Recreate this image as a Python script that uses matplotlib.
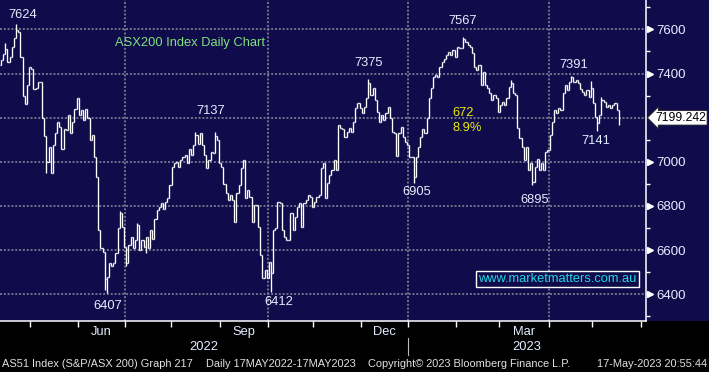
import numpy as np
import pandas as pd
import matplotlib
matplotlib.use("Agg")
import matplotlib.pyplot as plt
from matplotlib.collections import LineCollection
from matplotlib.patches import Rectangle
from matplotlib.ticker import MultipleLocator
from matplotlib.transforms import blended_transform_factory

# Daily closes (AS51, Apr 2022 - 17 May 2023)
close = [
    7460, 7490, 7510, 7450, 7476, 7521, 7560, 7595, 7590, 7473,
    7300, 7262, 7350, 7430, 7420, 7330, 7335, 7363, 7360, 7200,
    7117, 7000, 7068, 6950, 7075, 7130, 7180, 7160, 7060, 7150,
    7145, 7210, 7130, 7180, 7240, 7290, 7210, 7235, 7190, 7240,
    7200, 7100, 7120, 7023, 6933, 6691, 6608, 6590, 6470, 6480,
    6540, 6530, 6540, 6585, 6700, 6767, 6706, 6615, 6540, 6623,
    6658, 6608, 6646, 6713, 6600, 6646, 6615, 6660, 6608, 6690,
    6650, 6740, 6782, 6797, 6815, 6785, 6820, 6835, 6895, 6978,
    6993, 7000, 6978, 7008, 7023, 7030, 6993, 7060, 7030, 7076,
    7121, 7083, 7130, 7076, 7030, 6970, 7008, 7045, 7040, 7115,
    7100, 6993, 6978, 6900, 6857, 6827, 6850, 6827, 6729, 6857,
    6895, 6970, 7008, 6835, 6872, 6842, 6729, 6805, 6805, 6706,
    6578, 6472, 6510, 6472, 6548, 6495, 6691, 6699, 6820, 6812,
    6691, 6660, 6646, 6646, 6767, 6691, 6752, 6797, 6812, 6706,
    6812, 6827, 6850, 6842, 6797, 6820, 6840, 6850, 6970, 6993,
    6835, 6902, 6940, 6963, 7008, 6963, 7167, 7152, 7147, 7114,
    7136, 7152, 7136, 7182, 7242, 7265, 7242, 7219, 7250, 7287,
    7355, 7303, 7333, 7280, 7227, 7182, 7212, 7190, 7219, 7250,
    7200, 7136, 7130, 7026, 7130, 7160, 7114, 7091, 7076, 7023,
    7023, 6930, 7023, 7068, 7114, 7150, 7130, 7197, 7287, 7333,
    7385, 7393, 7385, 7430, 7453, 7468, 7484, 7499, 7484, 7506,
    7476, 7521, 7514, 7514, 7555, 7544, 7529, 7521, 7494, 7430,
    7416, 7438, 7348, 7408, 7348, 7333, 7310, 7280, 7303, 7287,
    7227, 7257, 7272, 7257, 7287, 7340, 7355, 7310, 7303, 7152,
    7106, 7068, 7008, 7068, 6963, 6993, 6910, 6978, 7015, 6963,
    6993, 6963, 7045, 7053, 7121, 7182, 7235, 7219, 7242, 7235,
    7313, 7348, 7325, 7363, 7382, 7363, 7370, 7358, 7328, 7318,
    7303, 7325, 7295, 7333, 7265, 7204, 7174, 7212, 7280, 7272,
    7250, 7257, 7242, 7257, 7265, 7235, 7199.242,
]
first_open = 7440
# intraday extremes that stick out past open/close
high_extra = {2: 7540, 7: 7624, 55: 6775, 63: 6725, 90: 7133, 99: 7137,
              170: 7375, 214: 7567, 236: 7370, 264: 7391, 273: 7367, 278: 7292}
low_extra = {21: 6950, 48: 6420, 49: 6407, 58: 6530, 67: 6585, 125: 6412,
             191: 6905, 246: 6895, 276: 7141, 286: 7165}

# labels Bloomberg put on the chart: text, bar index, price level
peak_labels = [("7624", 10, 7665), ("7137", 97, 7231), ("7375", 170, 7447),
               ("7567", 213.5, 7638), ("7391", 265, 7438),
               ("6407", 49.5, 6348), ("6412", 128.5, 6366), ("6905", 192.5, 6863),
               ("6895", 247, 6827), ("7141", 275.5, 7094)]
move_pts = "672"
move_pct = "8.9%"
last_price = close[-1]
y_major = [6400, 6600, 6800, 7000, 7200, 7400, 7600]
month_names = {6: "Jun", 9: "Sep", 12: "Dec", 3: "Mar"}

dates = pd.bdate_range(end="2023-05-17", periods=len(close))

NAVY = "#100c4b"
W, H = 709, 372
plt.rcParams["font.family"] = ["Liberation Sans", "DejaVu Sans"]

fig = plt.figure(figsize=(W / 100, H / 100), dpi=100)
fig.patch.set_facecolor("black")
fig.add_artist(Rectangle((0, 51 / H), 1, 321 / H, transform=fig.transFigure,
                         facecolor=NAVY, edgecolor="none", zorder=0))
ax = fig.add_axes([0, 51 / H, 646 / W, 321 / H])
ax.set_facecolor(NAVY)

# OHLC bars, open taken as previous close
opens = [first_open] + close[:-1]
segs = []
for i, c in enumerate(close):
    o = opens[i]
    hi = max(o, c, high_extra.get(i, c))
    lo = min(o, c, low_extra.get(i, c))
    segs.append([(i, lo), (i, hi)])
    segs.append([(i - 0.5, o), (i, o)])
    segs.append([(i, c), (i + 0.5, c)])
ax.add_collection(LineCollection(segs, colors="white", linewidths=0.95, zorder=3))

x_left, x_right = -1 / 2.16, 645 / 2.16
ax.set_xlim(x_left, x_right)
ax.set_ylim(6279, 7733)

# month boundaries on a business-day axis
full = pd.bdate_range(dates[0], "2023-07-31")
starts = [k for k in range(1, len(full)) if full[k].month != full[k - 1].month]
bounds = [k - 0.5 for k in starts if x_left < k - 0.5 < x_right]
ax.set_xticks(bounds)
ax.tick_params(axis="x", direction="out", length=4, width=1, color="white",
               labelbottom=False)

grid_kw = dict(color="#8c8c9c", lw=1.1, ls=(0, (1.3, 1.2)), zorder=1)
for v in y_major:
    ax.axhline(v, **grid_kw)
jan_pos = None
for k in starts:
    if full[k].month in (1, 4, 7, 10) and x_left < k - 0.5 < x_right:
        ax.axvline(k - 0.5, **grid_kw)
    if full[k].month == 1:
        jan_pos = k - 0.5

bx = blended_transform_factory(ax.transData, ax.transAxes)
lab_col = "#e4ecff"
for j, k in enumerate(starts[:-1]):
    m = full[k].month
    mid = (k + starts[j + 1]) / 2 - 0.5
    if m in month_names and mid < dates.size:
        ax.text(mid, -11 / 321, month_names[m], transform=bx, ha="center",
                va="center", fontsize=9.3, color=lab_col, clip_on=False)
ax.text((x_left + jan_pos) / 2, -26 / 321, "2022", transform=bx, ha="center",
        va="center", fontsize=9.3, color=lab_col, clip_on=False)
ax.text((jan_pos + x_right) / 2, -26 / 321, "2023", transform=bx, ha="center",
        va="center", fontsize=9.3, color=lab_col, clip_on=False)
ax.plot([jan_pos, jan_pos], [-17 / 321, -34 / 321], transform=bx, color="#bbbbbb",
        lw=0.8, clip_on=False)

for s in ["top", "left"]:
    ax.spines[s].set_visible(False)
for s in ["right", "bottom"]:
    ax.spines[s].set_color("white")
    ax.spines[s].set_linewidth(1.1)

# right price axis; the last-price tag hides the level it sits on
hidden = [abs(v - last_price) < 40 for v in y_major]
ax.yaxis.set_ticks_position("right")
ax.set_yticks(y_major)
ax.set_yticklabels(["" if h else str(v) for v, h in zip(y_major, hidden)])
ax.yaxis.set_minor_locator(MultipleLocator(100))
ax.tick_params(axis="y", which="major", length=0, pad=7.5, labelsize=9.5,
               labelcolor=lab_col)
ax.tick_params(axis="y", which="minor", length=3, width=1, color="white",
               direction="out")
by = blended_transform_factory(ax.transAxes, ax.transData)
tri = [v for v, h in zip(y_major, hidden) if not h]
ax.plot([1 + 3.5 / 646] * len(tri), tri, transform=by, ls="none",
        marker=">", ms=5, color="white", clip_on=False, zorder=5)
ax.text(1 + 9 / 646, last_price, f"{last_price:.3f}", transform=by,
        ha="left", va="center", fontsize=8.8, color="black", clip_on=False,
        zorder=6,
        bbox=dict(boxstyle="larrow,pad=0.1", fc="white", ec="#202020", lw=0.6))

for txt, xi, yv in peak_labels:
    ax.text(xi, yv, txt, ha="center", va="center", fontsize=9.3, color=lab_col)
ax.text(209, 7221, move_pts, ha="left", va="center", fontsize=9.3, color="#eaea10")
ax.text(209, 7153, move_pct, ha="left", va="center", fontsize=9.3, color="#eaea10")

fig.text(115 / W, 1 - 43 / H, "ASX200 Index Daily Chart", ha="left", va="center",
         fontsize=9.3, color="#7fe07f")
fig.text(478 / W, 1 - 279 / H, "www.marketmatters.com.au", ha="left", va="center",
         fontsize=9.3, color="#22d6e6",
         bbox=dict(boxstyle="square,pad=0.18", fc=NAVY, ec="white", lw=1.0))

foot = "#e0e0e0"
fy = 1 - 364 / H
fs = 7.9
fig.text(2 / W, fy, "AS51 Index (S&P/ASX 200) Graph 217", ha="left", va="center",
         fontsize=fs, color=foot)
fig.text(206 / W, fy, "Daily 17MAY2022-17MAY2023", ha="left", va="center",
         fontsize=fs, color=foot)
fig.text(368 / W, fy, "Copyright\u00a9 2023 Bloomberg Finance L.P.", ha="left",
         va="center", fontsize=fs, color=foot)
fig.text(707 / W, fy, "17-May-2023 20:55:44", ha="right", va="center",
         fontsize=fs, color=foot)

fig.savefig("out.png", dpi=100, facecolor=fig.get_facecolor())
